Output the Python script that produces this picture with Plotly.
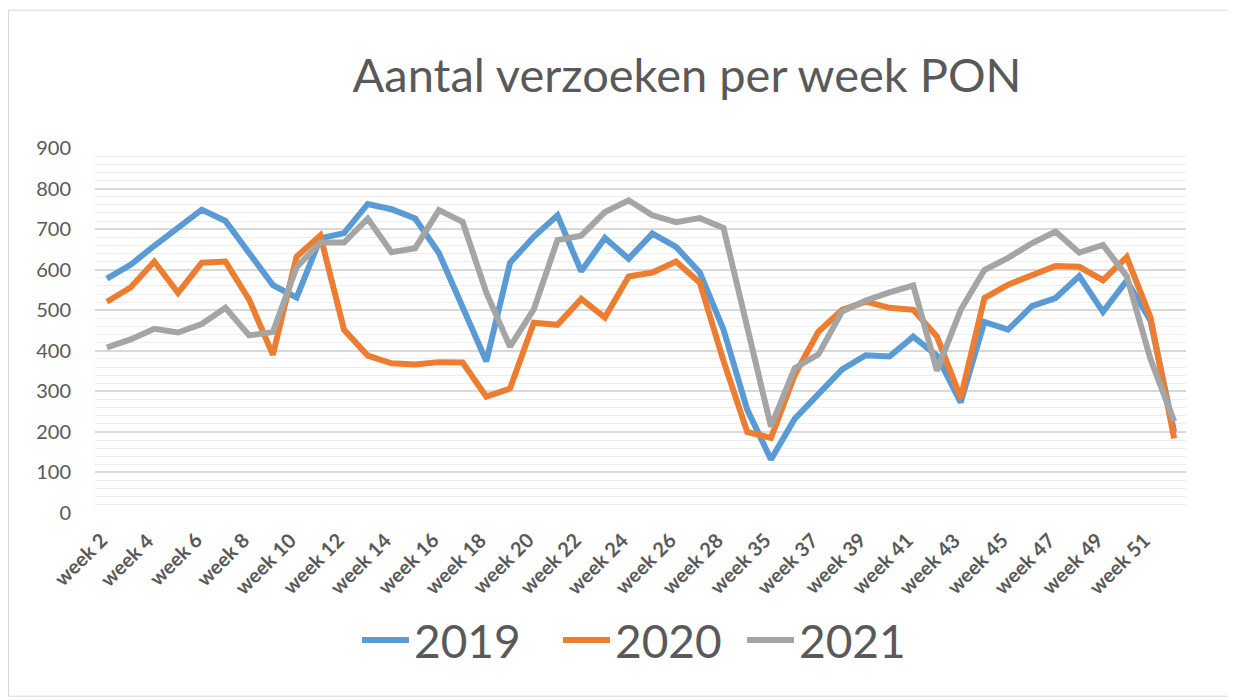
import plotly.graph_objects as go

weeks = [f"week {w}" for w in range(2, 29)] + ["week 29"] + [f"week {w}" for w in range(35, 53)]
tick_labels = weeks[::2]

y2019 = [578, 612, 659, 705, 748, 720, 643, 562, 531, 677, 690, 762, 749, 726, 641, 505, 374, 617,
         681, 734, 596, 678, 627, 689, 656, 593, 452, 255, 132, 232, 294, 354, 389, 386, 435, 388,
         273, 471, 452, 510, 530, 584, 496, 573, 475, 200]
y2020 = [521, 556, 620, 543, 617, 620, 526, 390, 632, 684, 452, 388, 369, 366, 372, 371, 287, 307,
         469, 464, 528, 482, 583, 593, 620, 568, 375, 200, 185, 340, 447, 501, 521, 506, 501, 435,
         284, 530, 563, 587, 609, 607, 574, 631, 483, 184]
y2021 = [408, 428, 454, 445, 466, 506, 438, 446, 606, 667, 667, 726, 643, 653, 747, 718, 543, 410,
         502, 673, 684, 742, 771, 734, 717, 727, 703, 460, 213, 357, 391, 497, 524, 544, 561, 351,
         501, 599, 629, 665, 694, 642, 661, 584, 380, 226]

series = [("2019", y2019, "#5B9BD5", "legend"),
          ("2020", y2020, "#ED7D31", "legend2"),
          ("2021", y2021, "#A5A5A5", "legend3")]

FONT = "Lato"
GREY = "#595959"
OFF = 8  # page body margin

W, H = 1228, 692
# target page coordinates of plot area
PL, PR, PT, PB = 95, 1186, 148, 513.5
L, R, T, B = PL - OFF, W - (PR - OFF), PT - OFF, H - (PB - OFF)
pw, ph = W - L - R, H - T - B

fig = go.Figure()
for name, vals, col, lg in series:
    fig.add_trace(go.Scatter(x=weeks, y=vals, name=name, mode="lines", legend=lg,
                             line=dict(color=col, width=6)))

def leg(page_x):
    return dict(orientation="h", x=(page_x - OFF) / W, xanchor="left", xref="container",
                y=1 - (640 - OFF) / H, yref="container", yanchor="middle",
                font=dict(family=FONT, size=46, color=GREY), itemwidth=47,
                bgcolor="rgba(0,0,0,0)", borderwidth=0)

# rotated category labels (every other week), placed at the axis categories
annotations = [dict(x=lbl, y=0, xref="x", yref="y", text=lbl, showarrow=False,
                    textangle=-45, xanchor="right", yanchor="top", xshift=7, yshift=-12,
                    font=dict(family=FONT, size=20, color=GREY, weight="bold"))
               for lbl in tick_labels]

fig.update_layout(
    width=W, height=H,
    margin=dict(l=L, r=R, t=T, b=B, pad=0, autoexpand=False),
    paper_bgcolor="white", plot_bgcolor="white",
    font=dict(family=FONT, color=GREY),
    title=dict(text="Aantal verzoeken per week PON", font=dict(family=FONT, size=47, color=GREY),
               x=(687 - OFF) / W, xref="container", xanchor="center",
               y=1 - 67.5 / H, yref="container", yanchor="middle", automargin=False),
    showlegend=True,
    legend=leg(357), legend2=leg(558), legend3=leg(742),
    annotations=annotations,
    xaxis=dict(type="category", range=[-0.5, len(weeks) - 0.5],
               showticklabels=False, automargin=False,
               showgrid=False, zeroline=False, showline=False, ticks=""),
    yaxis=dict(range=[0, 900], dtick=100, tick0=0, automargin=False,
               tickfont=dict(family=FONT, size=20, color=GREY),
               showgrid=True, gridcolor="#D9D9D9", gridwidth=1.5,
               minor=dict(dtick=20, showgrid=True, gridcolor="#EDEDED", gridwidth=1),
               zeroline=False, showline=False,
               ticks="outside", ticklen=19, tickcolor="rgba(0,0,0,0)"),
    shapes=[dict(type="rect", xref="paper", yref="paper",
                 x0=(0.5 - L) / pw, x1=(1232 - OFF - L) / pw,
                 y0=(T + ph - (697 - OFF)) / ph, y1=(T + ph - (10 - OFF)) / ph,
                 line=dict(color="#D9D9D9", width=1), fillcolor="rgba(0,0,0,0)", layer="below")],
)

fig.write_html("out.html")
